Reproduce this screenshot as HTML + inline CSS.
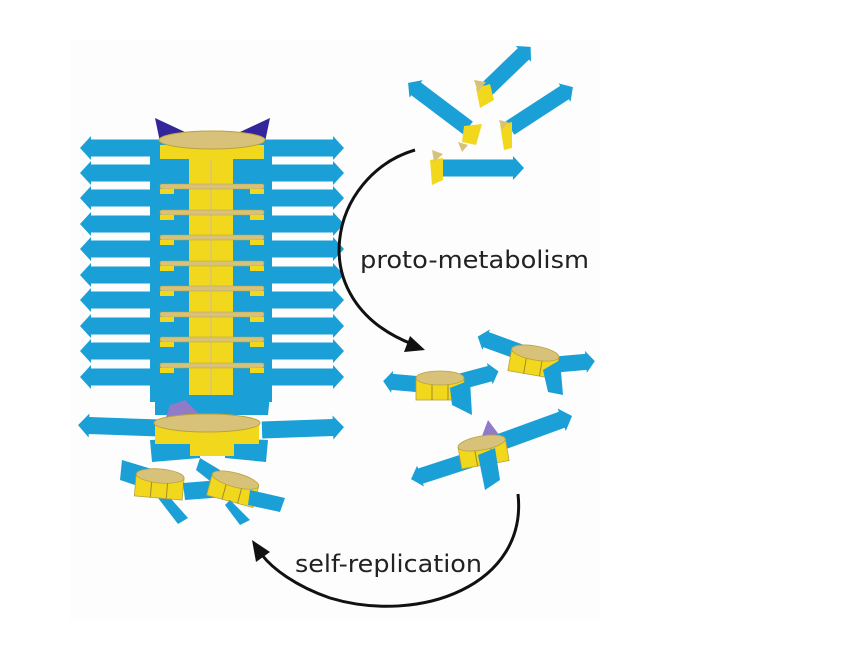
<!DOCTYPE html>
<html><head><style>body{margin:0;background:#fff}svg{display:block}</style></head><body>
<svg width="860" height="653" viewBox="0 0 860 653" xmlns="http://www.w3.org/2000/svg">
<defs>
<polygon id="L82" points="0,-8.5 71,-8.5 71,-12 82,0 71,12 71,8.5 0,8.5" fill="#1a9fd6"/>
<polygon id="L62" points="0,-8 52,-8 52,-11 62,0 52,11 52,8 0,8" fill="#1a9fd6"/>
<polygon id="L75" points="0,-8 65,-8 65,-11 75,0 65,11 65,8 0,8" fill="#1a9fd6"/>
<polygon id="L45" points="0,-8 36,-8 36,-11 45,0 36,11 36,8 0,8" fill="#1a9fd6"/>
<g id="ring">
<rect x="-24" y="-2" width="48" height="22" fill="#f2d81c" stroke="#b9a23a" stroke-width="0.8"/>
<line x1="-8" y1="0" x2="-8" y2="20" stroke="#a08a30"/><line x1="8" y1="0" x2="8" y2="20" stroke="#a08a30"/>
<ellipse cx="0" cy="-2" rx="24" ry="7" fill="#d8c27a" stroke="#b9a23a" stroke-width="0.8"/>
</g>
</defs>
<rect x="70" y="40" width="530" height="580" fill="#fdfdfd"/>
<rect x="150" y="140" width="122" height="262" fill="#1a9fd6"/>
<g>
<use href="#L82" transform="translate(162,148) rotate(180)"/><use href="#L82" transform="translate(262,148)"/>
<use href="#L82" transform="translate(162,173) rotate(180)"/><use href="#L82" transform="translate(262,173)"/>
<use href="#L82" transform="translate(162,198) rotate(180)"/><use href="#L82" transform="translate(262,198)"/>
<use href="#L82" transform="translate(162,224) rotate(180)"/><use href="#L82" transform="translate(262,224)"/>
<use href="#L82" transform="translate(162,249) rotate(180)"/><use href="#L82" transform="translate(262,249)"/>
<use href="#L82" transform="translate(162,275) rotate(180)"/><use href="#L82" transform="translate(262,275)"/>
<use href="#L82" transform="translate(162,300) rotate(180)"/><use href="#L82" transform="translate(262,300)"/>
<use href="#L82" transform="translate(162,326) rotate(180)"/><use href="#L82" transform="translate(262,326)"/>
<use href="#L82" transform="translate(162,351) rotate(180)"/><use href="#L82" transform="translate(262,351)"/>
<use href="#L82" transform="translate(162,377) rotate(180)"/><use href="#L82" transform="translate(262,377)"/>
</g>
<rect x="189" y="145" width="44" height="258" fill="#f2d81c"/>
<line x1="211" y1="145" x2="211" y2="403" stroke="#d8c27a" stroke-width="1.5"/>
<g fill="#d8c27a" stroke="#b9a23a" stroke-width="0.6">
<rect x="160" y="184" width="104" height="5" rx="2"/><rect x="160" y="210" width="104" height="5" rx="2"/>
<rect x="160" y="235" width="104" height="5" rx="2"/><rect x="160" y="261" width="104" height="5" rx="2"/>
<rect x="160" y="286" width="104" height="5" rx="2"/><rect x="160" y="312" width="104" height="5" rx="2"/>
<rect x="160" y="337" width="104" height="5" rx="2"/><rect x="160" y="363" width="104" height="5" rx="2"/>
</g>
<g fill="#f2d81c">
<rect x="160" y="189" width="14" height="5"/><rect x="250" y="189" width="14" height="5"/>
<rect x="160" y="215" width="14" height="5"/><rect x="250" y="215" width="14" height="5"/>
<rect x="160" y="240" width="14" height="5"/><rect x="250" y="240" width="14" height="5"/>
<rect x="160" y="266" width="14" height="5"/><rect x="250" y="266" width="14" height="5"/>
<rect x="160" y="291" width="14" height="5"/><rect x="250" y="291" width="14" height="5"/>
<rect x="160" y="317" width="14" height="5"/><rect x="250" y="317" width="14" height="5"/>
<rect x="160" y="342" width="14" height="5"/><rect x="250" y="342" width="14" height="5"/>
<rect x="160" y="368" width="14" height="5"/><rect x="250" y="368" width="14" height="5"/>
</g>
<polygon points="155,118 185,132 160,142" fill="#34259a"/>
<polygon points="270,118 240,132 265,142" fill="#34259a"/>
<rect x="160" y="145" width="104" height="14" fill="#f2d81c"/>
<ellipse cx="212" cy="140" rx="53" ry="9" fill="#d8c27a" stroke="#b9a23a"/>
<polygon points="155,395 270,395 268,415 155,415" fill="#1a9fd6"/>
<polygon points="170,405 185,400 200,415 165,420" fill="#8f7bc8"/>
<use href="#L82" transform="translate(160,428) rotate(182)" />
<use href="#L82" transform="translate(262,430) rotate(-2)"/>
<polygon points="150,440 200,438 200,458 152,462" fill="#1a9fd6"/>
<polygon points="225,438 268,440 266,462 225,458" fill="#1a9fd6"/>
<rect x="155" y="422" width="104" height="22" fill="#f2d81c"/>
<rect x="190" y="436" width="44" height="20" fill="#f2d81c"/>
<ellipse cx="207" cy="423" rx="53" ry="9" fill="#d8c27a" stroke="#b9a23a"/>
<polygon points="122,460 155,470 150,490 120,480" fill="#1a9fd6"/>
<polygon points="165,492 188,518 178,524 158,498" fill="#1a9fd6"/>
<use href="#ring" transform="translate(160,478) rotate(5)"/>
<polygon points="183,483 220,480 225,497 185,500" fill="#1a9fd6"/>
<polygon points="200,458 220,470 215,485 196,470" fill="#1a9fd6"/>
<use href="#ring" transform="translate(235,482) rotate(15)"/>
<polygon points="250,490 285,498 280,512 248,505" fill="#1a9fd6"/>
<polygon points="230,500 250,520 240,525 225,505" fill="#1a9fd6"/>
<use href="#L62" transform="translate(486,90) rotate(-44)"/>
<polygon points="476,88 490,84 494,100 480,108" fill="#f2d81c"/><polygon points="474,80 486,82 478,92" fill="#d8c27a"/>
<use href="#L75" transform="translate(468,128) rotate(217)"/>
<polygon points="464,126 482,124 476,145 462,142" fill="#f2d81c"/><polygon points="458,142 468,145 462,152" fill="#d8c27a"/>
<use href="#L75" transform="translate(510,128) rotate(-33)"/>
<polygon points="500,125 512,122 512,148 504,150" fill="#f2d81c"/><polygon points="499,120 508,122 502,130" fill="#d8c27a"/>
<use href="#L82" transform="translate(442,168)"/>
<polygon points="430,160 443,158 443,180 432,185" fill="#f2d81c"/><polygon points="432,150 443,154 434,162" fill="#d8c27a"/>
<use href="#L45" transform="translate(428,385) rotate(185)"/>
<use href="#L45" transform="translate(455,383) rotate(-15)"/>
<use href="#ring" transform="translate(440,380)"/>
<polygon points="450,388 470,380 472,415 452,405" fill="#1a9fd6"/>
<use href="#L45" transform="translate(520,352) rotate(200)"/>
<use href="#L45" transform="translate(550,365) rotate(-5)"/>
<use href="#ring" transform="translate(535,355) rotate(10)"/>
<polygon points="543,370 560,360 563,395 548,392" fill="#1a9fd6"/>
<use href="#L62" transform="translate(470,460) rotate(162)"/>
<polygon points="488,420 500,436 482,436" fill="#8f7bc8"/>
<use href="#L82" transform="translate(495,444) rotate(-20)"/>
<use href="#ring" transform="translate(482,445) rotate(-10)"/>
<polygon points="478,455 495,448 500,480 485,490" fill="#1a9fd6"/>
<path d="M415,150 C330,175 300,300 412,344" fill="none" stroke="#111" stroke-width="3"/>
<polygon points="425,350 404,352 410,336" fill="#111"/>
<path d="M518,494 C528,585 420,625 330,598 C295,586 272,568 262,555" fill="none" stroke="#111" stroke-width="3"/>
<polygon points="252,540 270,552 256,562" fill="#111"/>
<text x="360" y="268" font-family="DejaVu Sans, sans-serif" font-size="24" fill="#222" textLength="229" lengthAdjust="spacingAndGlyphs">proto-metabolism</text>
<text x="295" y="572" font-family="DejaVu Sans, sans-serif" font-size="24" fill="#222" textLength="187" lengthAdjust="spacingAndGlyphs">self-replication</text>
</svg>
</body></html>
